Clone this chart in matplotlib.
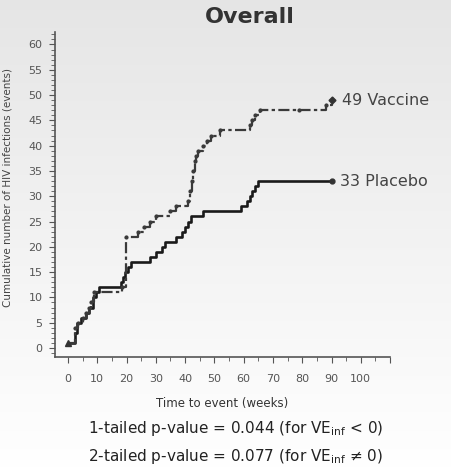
import numpy as np
import matplotlib
matplotlib.use("Agg")
import matplotlib.pyplot as plt
from matplotlib.ticker import MultipleLocator

plt.rcParams['font.family'] = ['DejaVu Sans']
plt.rcParams['mathtext.default'] = 'regular'

# step data: (week, cumulative events)
placebo_weeks = [0, 2.5, 3, 4.5, 6, 7, 8.5, 9.5, 10.5, 18, 18.8, 19.5, 20.5, 21.5,
                 28, 30, 32, 33, 37, 39, 40, 41, 42, 46, 59, 61, 62, 63, 64, 65, 90]
placebo_events = [1, 3, 5, 6, 7, 8, 10, 11, 12, 13, 14, 15, 16, 17,
                  18, 19, 20, 21, 22, 23, 24, 25, 26, 27, 28, 29, 30, 31, 32, 33, 33]

vaccine_weeks = [0, 2.5, 3.5, 5, 6, 7, 8, 9, 18.5, 19.7, 24, 26, 28, 30, 35, 37,
                 41, 41.7, 42.2, 42.7, 43.2, 43.7, 44.5, 46, 47.5, 49, 52, 62, 63,
                 64, 65.5, 79, 88, 90]
vaccine_events = [1, 4, 5, 6, 7, 8, 9, 11, 12, 22, 23, 24, 25, 26, 27, 28,
                  29, 31, 33, 35, 37, 38, 39, 40, 41, 42, 43, 44, 45,
                  46, 47, 47, 48, 49]

title = "Overall"
xlabel = "Time to event (weeks)"
ylabel = "Cumulative number of HIV infections (events)"
labels = ["49 Vaccine", "33 Placebo"]
pvals = ["1-tailed p-value = 0.044 (for VE$_{inf}$ < 0)",
         "2-tailed p-value = 0.077 (for VE$_{inf}$ \u2260 0)"]

fig = plt.figure(figsize=(4.52, 4.68), dpi=100)

# light grey to white background
bg = fig.add_axes([0, 0, 1, 1], zorder=-1)
grad = np.linspace(0.90, 1.0, 256).reshape(-1, 1)
bg.imshow(np.dstack([grad, grad, grad]), aspect='auto', extent=[0, 1, 0, 1],
          origin='upper')
bg.axis('off')

ax = fig.add_axes([0.122, 0.237, 0.741, 0.695])
ax.patch.set_alpha(0)

ax.step(placebo_weeks, placebo_events, where='post', color='#1a1a1a', lw=1.9)
ax.step(vaccine_weeks, vaccine_events, where='post', color='#3a3a3a', lw=1.6,
        dashes=(5, 1.5, 1.5, 1.5))
ax.plot(vaccine_weeks[1:-1], vaccine_events[1:-1], ls='none', marker='o',
        ms=2.0, color='#3a3a3a')
ax.plot(placebo_weeks[-1], placebo_events[-1], 'o', ms=3.5, color='#333333')
ax.plot(vaccine_weeks[-1], vaccine_events[-1], 'D', ms=3.5, color='#333333')
ax.plot(0, 1, '^', ms=4, color='#333333')

ax.text(93.5, vaccine_events[-1], labels[0], fontsize=11.5, color='#444444',
        va='center')
ax.text(93, placebo_events[-1], labels[1], fontsize=11.5, color='#444444',
        va='center')

ax.set_xlim(-4.4, 110)
ax.set_ylim(-1.8, 62.5)
ax.set_xticks(range(0, 111, 10))
ax.set_xticklabels([str(v) for v in range(0, 101, 10)] + [""])
ax.xaxis.set_minor_locator(MultipleLocator(5))
ax.set_yticks(range(0, 61, 5))
ax.yaxis.set_minor_locator(MultipleLocator(1))
ax.tick_params(axis='both', which='major', labelsize=8, colors='#555555',
               length=4, width=0.8)
ax.tick_params(axis='x', which='major', pad=8)
ax.tick_params(axis='y', which='major', pad=5)
ax.tick_params(axis='both', which='minor', length=3, width=0.6, colors='#555555')
for s in ['top', 'right']:
    ax.spines[s].set_visible(False)
for s in ['left', 'bottom']:
    ax.spines[s].set_color('#555555')
    ax.spines[s].set_linewidth(1.2)

ax.set_xlabel(xlabel, fontsize=8.5, color='#333333')
ax.xaxis.set_label_coords(0.5, -0.122)
ax.set_ylabel(ylabel, fontsize=7.5, color='#444444')
ax.yaxis.set_label_coords(-0.128, 0.52)

fig.text(0.553, 0.963, title, ha='center', va='center', fontsize=16,
         fontweight='bold', color='#333333')
fig.text(0.522, 0.085, pvals[0], ha='center', va='center', fontsize=11,
         color='#222222')
fig.text(0.522, 0.024, pvals[1], ha='center', va='center', fontsize=11,
         color='#222222')

fig.savefig("out.png", dpi=100)
